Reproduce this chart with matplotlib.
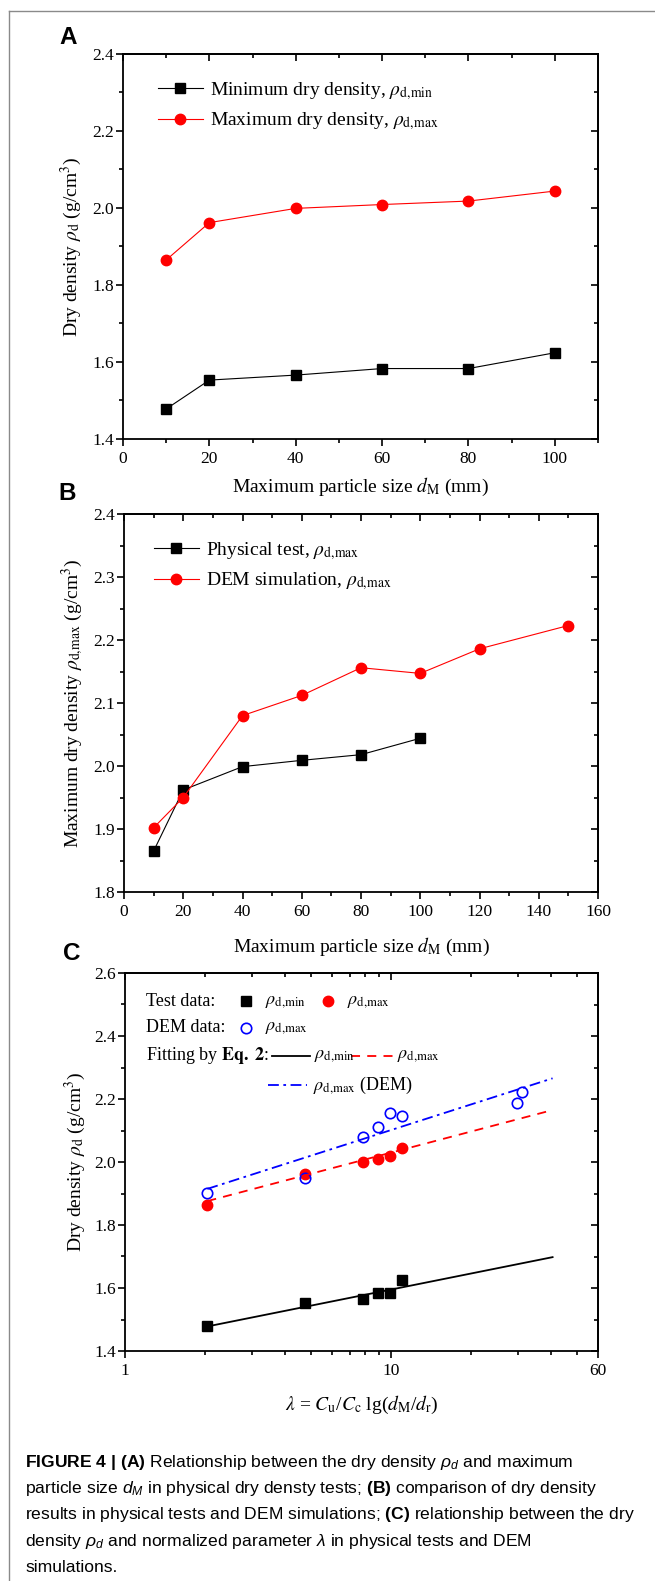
import numpy as np
import matplotlib
matplotlib.use("Agg")
import matplotlib.pyplot as plt
from matplotlib.ticker import MultipleLocator, FixedLocator, NullFormatter, FixedFormatter
from matplotlib.lines import Line2D

plt.rcParams['font.family'] = ['Liberation Serif', 'DejaVu Serif']
plt.rcParams['mathtext.fontset'] = 'stix'
# 'custom' math set is only used by the caption (sans)
plt.rcParams['mathtext.rm'] = 'Liberation Sans'
plt.rcParams['mathtext.it'] = 'Liberation Sans:italic'
plt.rcParams['mathtext.bf'] = 'Liberation Sans:bold'

# ---- data ----
dm_test = [10, 20, 40, 60, 80, 100]
rho_min_test = [1.478, 1.553, 1.566, 1.583, 1.583, 1.624]
rho_max_test = [1.865, 1.962, 1.999, 2.009, 2.018, 2.044]

dm_dem = [10, 20, 40, 60, 80, 100, 120, 150]
rho_max_dem = [1.902, 1.950, 2.080, 2.112, 2.156, 2.147, 2.186, 2.223]

lam_test = [2.04, 4.73, 7.86, 8.92, 9.91, 10.96]
lam_dem = [2.04, 4.73, 7.86, 8.92, 9.91, 10.96, 29.8, 31.2]

# fitted lines rho = a + b*lg(lambda)
fit_min = [1.4255, 0.1695]
fit_max = [1.807, 0.2227]
fit_dem = [1.831, 0.2704]
fit_range = [2.04, 40.5]

W, H = 655, 1581
fig = plt.figure(figsize=(W / 100, H / 100), dpi=100)

TICK_FS = 12.5
LAB_FS = 14
LEG_FS = 14


def box(l, t, r, b):
    return [l / W, 1 - b / H, (r - l) / W, (b - t) / H]


def style(ax, xmaj, xmin, ymaj, ymin, log=False):
    for s in ax.spines.values():
        s.set_linewidth(1.3)
    ax.tick_params(which='both', direction='out', width=1.2, labelsize=TICK_FS, pad=1.5)
    ax.tick_params(which='major', length=5)
    ax.tick_params(which='minor', length=3)
    ax.tick_params(axis='x', pad=3.5)
    top = ax.secondary_xaxis('top')
    right = ax.secondary_yaxis('right')
    for sec, axis in ((top, top.xaxis), (right, right.yaxis)):
        sec.tick_params(which='both', direction='in', width=1.2, labelsize=0)
        sec.tick_params(which='major', length=5)
        sec.tick_params(which='minor', length=3)
        axis.set_major_formatter(NullFormatter())
        axis.set_minor_formatter(NullFormatter())
        for s in sec.spines.values():
            s.set_linewidth(1.3)
    if log:
        ax.xaxis.set_major_locator(FixedLocator(xmaj))
        ax.xaxis.set_major_formatter(FixedFormatter([str(v) for v in xmaj]))
        ax.xaxis.set_minor_locator(FixedLocator(xmin))
        ax.xaxis.set_minor_formatter(NullFormatter())
        top.xaxis.set_major_locator(FixedLocator(xmaj))
        top.xaxis.set_minor_locator(FixedLocator(xmin))
    else:
        ax.xaxis.set_major_locator(MultipleLocator(xmaj))
        ax.xaxis.set_minor_locator(MultipleLocator(xmin))
        top.xaxis.set_major_locator(MultipleLocator(xmaj))
        top.xaxis.set_minor_locator(MultipleLocator(xmin))
    ax.yaxis.set_major_locator(MultipleLocator(ymaj))
    ax.yaxis.set_minor_locator(MultipleLocator(ymin))
    ax.yaxis.set_major_formatter(matplotlib.ticker.FormatStrFormatter('%.1f'))
    right.yaxis.set_major_locator(MultipleLocator(ymaj))
    right.yaxis.set_minor_locator(MultipleLocator(ymin))


RMIN = r"$\rho_{\rm d,\!min}$"
RMAX = r"$\rho_{\rm d,\!max}$"
xlab = r"Maximum particle size $d_{\rm M}$ (mm)"
ylab = r"Dry density $\rho_{\rm d}$ (g/cm$^3$)"

# ---------------- panel A ----------------
axA = fig.add_axes(box(123, 54, 598, 439))
axA.plot(dm_test, rho_min_test, '-s', color='black', lw=0.8, ms=6.5,
         label="Minimum dry density, " + RMIN)
axA.plot(dm_test, rho_max_test, '-o', color='red', lw=0.8, ms=7.5,
         label="Maximum dry density, " + RMAX)
axA.set_xlim(0, 110)
axA.set_ylim(1.4, 2.4)
style(axA, 20, 10, 0.2, 0.1)
axA.set_xlabel(xlab, fontsize=LAB_FS, va='center')
axA.xaxis.set_label_coords(0.5, -(487 - 439) / 385)
axA.set_ylabel(ylab, fontsize=LAB_FS, va='center')
axA.yaxis.set_label_coords((71 - 123) / 475, 0.5)
axA.legend(loc='center left', bbox_to_anchor=((158 - 123) / 475, 1 - (106 - 54) / 385),
           frameon=False, fontsize=LEG_FS, handlelength=2.3, handletextpad=0.35,
           labelspacing=0.45, borderpad=0, borderaxespad=0)

# ---------------- panel B ----------------
axB = fig.add_axes(box(124, 514, 598, 892))
axB.plot(dm_test, rho_max_test, '-s', color='black', lw=0.8, ms=6.5,
         label="Physical test, " + RMAX)
axB.plot(dm_dem, rho_max_dem, '-o', color='red', lw=0.8, ms=7.5,
         label="DEM simulation, " + RMAX)
axB.set_xlim(0, 160)
axB.set_ylim(1.8, 2.4)
style(axB, 20, 10, 0.1, 0.05)
axB.set_xlabel(xlab, fontsize=LAB_FS, va='center')
axB.xaxis.set_label_coords(0.5, -(947 - 892) / 378)
axB.set_ylabel(r"Maximum dry density $\rho_{\rm d,\!max}$ (g/cm$^3$)", fontsize=LAB_FS, va='center')
axB.yaxis.set_label_coords((73 - 124) / 474, 0.5)
axB.legend(loc='center left', bbox_to_anchor=((154 - 124) / 474, 1 - (566 - 514) / 378),
           frameon=False, fontsize=LEG_FS, handlelength=2.3, handletextpad=0.35,
           labelspacing=0.45, borderpad=0, borderaxespad=0)

# ---------------- panel C ----------------
axC = fig.add_axes(box(125, 973, 598, 1351))
axC.set_xscale('log')
axC.plot(lam_test, rho_min_test, 's', color='black', ms=6.5)
axC.plot(lam_test, rho_max_test, 'o', color='red', ms=7.5)
axC.plot(lam_dem, rho_max_dem, 'o', mfc='none', mec='blue', mew=1.2, ms=7.5)
lam_fit = np.geomspace(fit_range[0], fit_range[1], 50)
axC.plot(lam_fit, fit_min[0] + fit_min[1] * np.log10(lam_fit), '-', color='black', lw=1.3)
axC.plot(lam_fit, fit_max[0] + fit_max[1] * np.log10(lam_fit), '--', color='red', lw=1.3,
         dashes=(5, 4))
axC.plot(lam_fit, fit_dem[0] + fit_dem[1] * np.log10(lam_fit), '-.', color='blue', lw=1.3,
         dashes=(6, 2.5, 1.5, 2.5))
axC.set_xlim(1, 60)
axC.set_ylim(1.4, 2.6)
style(axC, [1, 10, 60], [2, 3, 4, 5, 6, 7, 8, 9, 20, 30, 40, 50], 0.2, 0.1, log=True)
axC.set_xlabel(r"$\lambda$ = $C_{\rm u}$/$C_{\rm c}$ lg($d_{\rm M}$/$d_{\rm r}$)", fontsize=LAB_FS, va='center')
axC.xaxis.set_label_coords(0.5, -(1405 - 1351) / 378)
axC.set_ylabel(ylab, fontsize=LAB_FS, va='center')
axC.yaxis.set_label_coords((75 - 125) / 473, 0.5)


# hand-built legend for panel C (positions in pixels -> axes fraction)
def cx(px):
    return (px - 125) / 473


def cy(py):
    return 1 - (py - 973) / 378


lfs = 13
rows = [1001, 1028, 1056, 1085]
T = axC.transAxes


def ltext(px, row, s):
    axC.text(cx(px), cy(rows[row]), s, transform=T, fontsize=lfs, va='center')


def lmark(px, row, **kw):
    axC.add_line(Line2D([cx(px)], [cy(rows[row])], transform=T, ls='none', **kw))


def lline(p0, p1, row, **kw):
    axC.add_line(Line2D([cx(p0), cx(p1)], [cy(rows[row])] * 2, transform=T, lw=1.3, **kw))


ltext(146, 0, "Test data:")
lmark(246, 0, marker='s', ms=6.5, color='black')
ltext(265, 0, RMIN)
lmark(328, 0, marker='o', ms=7.5, color='red')
ltext(347, 0, RMAX)

ltext(146, 1, "DEM data:")
lmark(246, 1, marker='o', ms=7.5, mfc='none', mec='blue', mew=1.2)
ltext(265, 1, RMAX)

ltext(146, 2, r"Fitting by $\mathbf{Eq.}$ $\mathbf{2}$:")
lline(272, 310, 2, color='black')
ltext(314, 2, RMIN)
lline(351, 393, 2, color='red', ls='--', dashes=(5, 4))
ltext(397, 2, RMAX)
lline(268, 307, 3, color='blue', ls='-.', dashes=(6, 2.5, 1.5, 2.5))
ltext(313, 3, RMAX + " (DEM)")

# panel letters
for letter, (px, py) in zip("ABC", [(68, 38), (67, 493), (72, 953)]):
    fig.text(px / W, 1 - py / H, letter, fontsize=17.5, fontweight='bold',
             family='Liberation Sans', ha='center', va='center')

# caption
caption = [
    r"$\mathbf{FIGURE\ 4\ |\ (A)}$ Relationship between the dry density $\rho_d$ and maximum",
    r"particle size $d_M$ in physical dry densty tests; $\mathbf{(B)}$ comparison of dry density",
    r"results in physical tests and DEM simulations; $\mathbf{(C)}$ relationship between the dry",
    r"density $\rho_d$ and normalized parameter $\lambda$ in physical tests and DEM",
    "simulations.",
]
for i, line in enumerate(caption):
    fig.text(25 / W, 1 - (1462 + 26.5 * i) / H, line, fontsize=12.6, family='Liberation Sans',
             math_fontfamily='custom', ha='left', va='center')

# thin grey frame (top and left edges)
fig.add_artist(Line2D([9 / W, 1], [1 - 11 / H] * 2, color='#8a8a8a', lw=1))
fig.add_artist(Line2D([9 / W] * 2, [1 - 11 / H, 0], color='#8a8a8a', lw=1))

fig.savefig("out.png", dpi=100)
